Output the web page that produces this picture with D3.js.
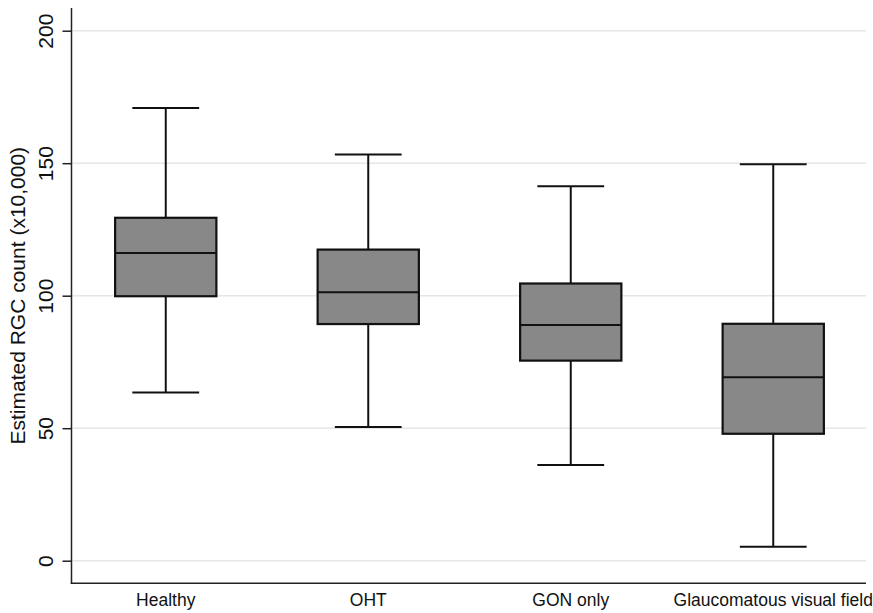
<!DOCTYPE html>
<html>
<head>
<meta charset="utf-8">
<script src="https://cdn.jsdelivr.net/npm/d3@7/dist/d3.min.js"></script>
<style>
  html, body { margin: 0; padding: 0; background: #ffffff; }
  svg { display: block; font-family: "Liberation Sans", Arial, Helvetica, sans-serif; }
</style>
</head>
<body>
<svg id="chart" width="873" height="613"></svg>
<script>
// ---- Data ----
const categories = ["Healthy", "OHT", "GON only", "Glaucomatous visual field"];
const whiskerLow  = [63.5, 50.5, 36.1, 5.3];
const quartile1   = [99.8, 89.3, 75.5, 47.9];
const medians     = [116.1, 101.3, 88.9, 69.2];
const quartile3   = [129.4, 117.4, 104.6, 89.4];
const whiskerHigh = [170.8, 153.3, 141.3, 149.6];
const yTicks = [0, 50, 100, 150, 200];
const yTitle = "Estimated RGC count (x10,000)";

const rows = categories.map((c, i) => ({
  cat: c, lo: whiskerLow[i], q1: quartile1[i], med: medians[i], q3: quartile3[i], hi: whiskerHigh[i]
}));

const svg = d3.select("#chart");
const axisX = 71.5, plotRight = 866, axisY = 583.3, axisTop = 8;

const y = d3.scaleLinear().domain([0, 200]).range([560.7, 30.7]);
const x = d3.scaleBand().domain(categories).range([64.5, 874.5]).padding(0);
const step = x.step();
const boxW = step * 0.5;
const capW = step * 0.33;

// gridlines
svg.append("g").selectAll("line").data(yTicks).join("line")
  .attr("x1", axisX + 1).attr("x2", plotRight)
  .attr("y1", d => y(d)).attr("y2", d => y(d))
  .attr("stroke", "#e6e6e6").attr("stroke-width", 1.5);

// y axis via d3.axisLeft
const yAxis = d3.axisLeft(y).tickValues(yTicks).tickSize(9).tickPadding(0).tickFormat(d3.format("d"));
const gy = svg.append("g").attr("transform", `translate(${axisX},0)`).call(yAxis);
gy.select(".domain").remove();
gy.selectAll(".tick line").attr("stroke", "#222").attr("stroke-width", 1.5);
gy.selectAll(".tick text")
  .attr("font-size", 21).attr("fill", "#111")
  .attr("text-anchor", "middle")
  .attr("x", 0).attr("dy", 0)
  .attr("transform", "translate(-26,0) rotate(-90)")
  .attr("dominant-baseline", "central");

svg.append("line").attr("x1", axisX).attr("x2", axisX).attr("y1", axisTop).attr("y2", axisY + 0.75)
  .attr("stroke", "#222").attr("stroke-width", 1.5);
svg.append("line").attr("x1", axisX - 0.75).attr("x2", plotRight).attr("y1", axisY).attr("y2", axisY)
  .attr("stroke", "#222").attr("stroke-width", 1.5);

// x axis labels via d3.axisBottom
const xAxis = d3.axisBottom(x).tickSize(0).tickPadding(0);
const gx = svg.append("g").attr("transform", `translate(0,${axisY})`).call(xAxis);
gx.select(".domain").remove();
gx.selectAll(".tick text").attr("font-size", 17.5).attr("fill", "#111").attr("dy", 0).attr("y", 23);

// y title
svg.append("text")
  .attr("transform", `translate(25,${y(100)}) rotate(-90)`)
  .attr("text-anchor", "middle").attr("font-size", 21).attr("fill", "#111")
  .text(yTitle);

// boxes
const g = svg.append("g").selectAll("g").data(rows).join("g")
  .attr("transform", d => `translate(${x(d.cat) + step / 2},0)`);

g.append("line").attr("x1", 0).attr("x2", 0).attr("y1", d => y(d.hi)).attr("y2", d => y(d.q3))
  .attr("stroke", "#111").attr("stroke-width", 2);
g.append("line").attr("x1", 0).attr("x2", 0).attr("y1", d => y(d.q1)).attr("y2", d => y(d.lo))
  .attr("stroke", "#111").attr("stroke-width", 2);
g.append("line").attr("x1", -capW / 2).attr("x2", capW / 2).attr("y1", d => y(d.hi)).attr("y2", d => y(d.hi))
  .attr("stroke", "#111").attr("stroke-width", 2);
g.append("line").attr("x1", -capW / 2).attr("x2", capW / 2).attr("y1", d => y(d.lo)).attr("y2", d => y(d.lo))
  .attr("stroke", "#111").attr("stroke-width", 2);
g.append("rect").attr("x", -boxW / 2).attr("width", boxW)
  .attr("y", d => y(d.q3)).attr("height", d => y(d.q1) - y(d.q3))
  .attr("fill", "#888888").attr("stroke", "#111").attr("stroke-width", 2.2);
g.append("line").attr("x1", -boxW / 2).attr("x2", boxW / 2).attr("y1", d => y(d.med)).attr("y2", d => y(d.med))
  .attr("stroke", "#111").attr("stroke-width", 2);
</script>
</body>
</html>
